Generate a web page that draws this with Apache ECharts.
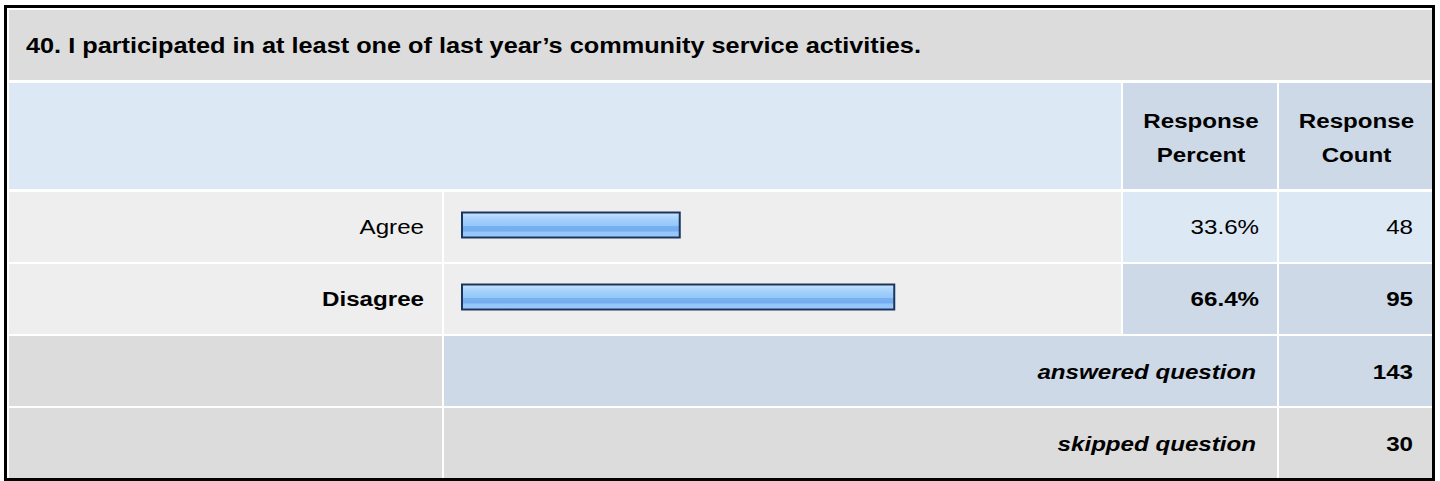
<!DOCTYPE html>
<html>
<head>
<meta charset="utf-8">
<title>40. Community service</title>
<script src="https://cdn.jsdelivr.net/npm/echarts@6/dist/echarts.min.js"></script>
<style>
  html, body { margin: 0; padding: 0; background: #fff; }
  #chart { width: 1440px; height: 481px; }
</style>
</head>
<body>
<div id="chart"></div>
<script>
const questionTitle = "40. I participated in at least one of last year’s community service activities.";
const categories = ["Agree", "Disagree"];
const percents = [33.6, 66.4];
const counts = [48, 95];
const columnHeaders = ["Response\nPercent", "Response\nCount"];
const summaryLabels = ["answered question", "skipped question"];
const summaryCounts = [143, 30];

// table layout (px)
const COL = [[9, 442], [444, 1121], [1123, 1277], [1279, 1432]];
const ROW_TITLE = [10, 80];
const ROW_HEAD = [83, 189];
const ROW_DATA = [[192, 262], [264, 334]];
const ROW_SUM = [[336, 406], [408, 478]];
const FONT = "'Liberation Sans', Arial, Helvetica, sans-serif";
const STRETCH = 1.15; // type in the reference is drawn a little wide

const GRAY = "#dcdcdc", LIGHT = "#eeeeee", BLUE = "#dde8f5", BLUE2 = "#cdd9e6";

function cell(x0, x1, y, fill) {
  return {
    type: "rect", silent: true, z: 0,
    shape: { x: x0, y: y[0], width: x1 - x0, height: y[1] - y[0] },
    style: { fill: fill }
  };
}

function txt(x, y, text, align, o) {
  o = o || {};
  return {
    type: "text", silent: true, z: 1,
    x: x, y: y, scaleX: STRETCH,
    style: {
      text: text, x: 0, y: 0,
      align: align, verticalAlign: "middle",
      fontFamily: FONT,
      fontSize: o.size || 21,
      fontWeight: o.bold ? "bold" : "normal",
      fontStyle: o.italic ? "italic" : "normal",
      lineHeight: o.lineHeight || 24,
      fill: "#000"
    }
  };
}

const mid = r => (r[0] + r[1]) / 2;
const best = Math.max(...percents);
let els = [];

// frame
els.push({
  type: "rect", silent: true, z: 0,
  shape: { x: 5.5, y: 6.5, width: 1428, height: 473 },
  style: { fill: "#fff", stroke: "#000", lineWidth: 3 }
});

// title row
els.push(cell(COL[0][0], COL[3][1], ROW_TITLE, GRAY));
els.push(txt(26, mid(ROW_TITLE) + 1, questionTitle, "left", { bold: true, size: 22 }));

// header row
els.push(cell(COL[0][0], COL[1][1], ROW_HEAD, BLUE));
columnHeaders.forEach((h, i) => {
  const c = COL[2 + i];
  els.push(cell(c[0], c[1], ROW_HEAD, BLUE2));
  els.push(txt((c[0] + c[1]) / 2 + 1, mid(ROW_HEAD) + 2, h, "center", { bold: true, lineHeight: 34 }));
});

// answer rows
categories.forEach((name, i) => {
  const r = ROW_DATA[i];
  const top = percents[i] === best;
  const fill = top ? BLUE2 : BLUE;
  els.push(cell(COL[0][0], COL[0][1], r, LIGHT));
  els.push(cell(COL[1][0], COL[1][1], r, LIGHT));
  els.push(cell(COL[2][0], COL[2][1], r, fill));
  els.push(cell(COL[3][0], COL[3][1], r, fill));
  els.push(txt(424, mid(r), name, "right", { bold: top }));
  els.push(txt(1259, mid(r), percents[i].toFixed(1) + "%", "right", { bold: top }));
  els.push(txt(1413, mid(r), String(counts[i]), "right", { bold: top }));
});

// summary rows
summaryLabels.forEach((s, i) => {
  const r = ROW_SUM[i];
  const fill = i === 0 ? BLUE2 : GRAY;
  els.push(cell(COL[0][0], COL[0][1], r, GRAY));
  els.push(cell(COL[1][0], COL[2][1], r, fill));
  els.push(cell(COL[3][0], COL[3][1], r, fill));
  els.push(txt(1256, mid(r) + 1, s, "right", { bold: true, italic: true }));
  els.push(txt(1413, mid(r) + 1, String(summaryCounts[i]), "right", { bold: true }));
});

let myChart = echarts.init(document.getElementById("chart"), null, { renderer: "svg" });
myChart.setOption({
  animation: false,
  graphic: { elements: els },
  grid: { left: 461, width: 654, top: 189, height: 144 },
  xAxis: { type: "value", min: 0, max: 100, show: false },
  yAxis: { type: "category", data: categories, inverse: true, show: false },
  series: [
    {
      type: "bar",
      z: 10,
      data: percents,
      barWidth: 27,
      itemStyle: {
        borderColor: "#1b355e",
        borderWidth: 2,
        color: new echarts.graphic.LinearGradient(0, 0, 0, 1, [
          { offset: 0, color: "#cde5fe" },
          { offset: 0.15, color: "#b4d8fc" },
          { offset: 0.35, color: "#9ecdfa" },
          { offset: 0.52, color: "#94c7f9" },
          { offset: 0.56, color: "#78b1f0" },
          { offset: 0.74, color: "#73adef" },
          { offset: 0.78, color: "#92c5f9" },
          { offset: 1, color: "#9ccbfa" }
        ])
      }
    }
  ]
});
window.addEventListener("resize", function () {
  myChart.resize();
});
</script>
</body>
</html>
